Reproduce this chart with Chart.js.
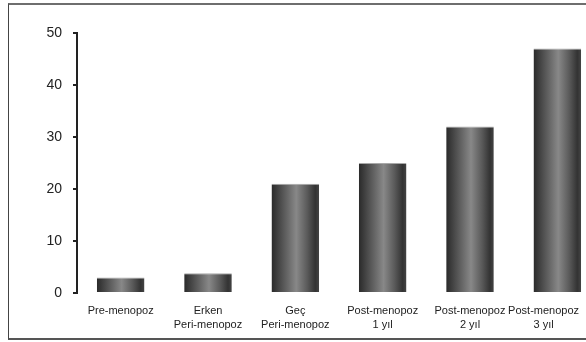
<!DOCTYPE html>
<html lang="tr">
<head>
    <meta charset="UTF-8">
    <title>Menopoz evreleri</title>
    <script src="https://cdn.jsdelivr.net/npm/chart.js"></script>
    <style>
        body {
            margin: 0;
            background-color: #ffffff;
            overflow: hidden;
        }

        .frame {
            position: relative;
            width: 586px;
            height: 342px;
            overflow: hidden;
        }

        .box {
            position: absolute;
            left: 8px;
            top: 3px;
            width: 640px;
            height: 333px;
            border-top: 2px solid #6e6e6e;
            border-left: 1px solid #444;
            border-bottom: 2px solid #555;
        }

        canvas {
            position: absolute;
            left: 0;
            top: 0;
        }
    </style>
</head>
<body>
    <div class="frame">
        <div class="box"></div>
        <canvas id="menoChart" width="620" height="342"></canvas>
    </div>

    <script>
        const categories = [
            'Pre-menopoz',
            ['Erken', 'Peri-menopoz'],
            ['Geç', 'Peri-menopoz'],
            ['Post-menopoz', '1 yıl'],
            ['Post-menopoz', '2 yıl'],
            ['Post-menopoz', '3 yıl']
        ];
        const values = [3, 3.8, 21, 25, 32, 47];
        const yTicks = [0, 10, 20, 30, 40, 50];

        // cylinder-like shading, dark at the edges
        function barShade(context) {
            const chart = context.chart;
            const x = chart.scales.x;
            if (!x || context.dataIndex == null) return '#555';
            const cx = x.getPixelForValue(context.dataIndex);
            const half = (x.getPixelForValue(1) - x.getPixelForValue(0)) * 0.545 / 2;
            if (!isFinite(cx) || !isFinite(half) || half <= 0) return '#555';
            const g = chart.ctx.createLinearGradient(cx - half, 0, cx + half, 0);
            g.addColorStop(0, '#2a2a2a');
            g.addColorStop(0.25, '#575757');
            g.addColorStop(0.52, '#888888');
            g.addColorStop(0.75, '#5a5a5a');
            g.addColorStop(0.92, '#333333');
            g.addColorStop(1, '#444444');
            return g;
        }

        const ctx = document.getElementById('menoChart').getContext('2d');
        new Chart(ctx, {
            type: 'bar',
            data: {
                labels: categories,
                datasets: [{
                    data: values,
                    backgroundColor: barShade,
                    borderColor: '#a8a8a8',
                    borderWidth: { top: 1, left: 0, right: 0, bottom: 0 },
                    borderSkipped: 'bottom',
                    categoryPercentage: 1,
                    barPercentage: 0.545
                }]
            },
            options: {
                responsive: false,
                animation: false,
                layout: {
                    padding: { left: 46, right: 19, top: 33, bottom: 0 }
                },
                scales: {
                    x: {
                        afterFit: axis => { axis.height = 49; },
                        grid: { display: false, drawTicks: false },
                        border: { display: false },
                        ticks: {
                            color: '#222',
                            padding: 10,
                            maxRotation: 0,
                            autoSkip: false,
                            font: { family: 'Liberation Sans, Arial, sans-serif', size: 11, lineHeight: 1.36 },
                            // last label sits a bit left of its bar so it stays inside the frame
                            callback: function (value, index) {
                                const lbl = categories[index];
                                if (index !== categories.length - 1) return lbl;
                                const pad = '\u00a0'.repeat(9);
                                return [].concat(lbl).map(s => s + pad);
                            }
                        }
                    },
                    y: {
                        min: 0,
                        max: 50,
                        afterFit: axis => { axis.width = 31; },
                        afterBuildTicks: axis => {
                            axis.ticks = yTicks.map(v => ({ value: v }));
                        },
                        grid: {
                            drawOnChartArea: false,
                            drawTicks: true,
                            tickLength: 4,
                            color: '#222',
                            lineWidth: 2
                        },
                        border: { display: true, color: '#222', width: 2 },
                        ticks: {
                            color: '#222',
                            padding: 11,
                            font: { family: 'Liberation Sans, Arial, sans-serif', size: 14 }
                        }
                    }
                },
                plugins: {
                    legend: { display: false },
                    tooltip: { enabled: false }
                }
            }
        });
    </script>
</body>
</html>
